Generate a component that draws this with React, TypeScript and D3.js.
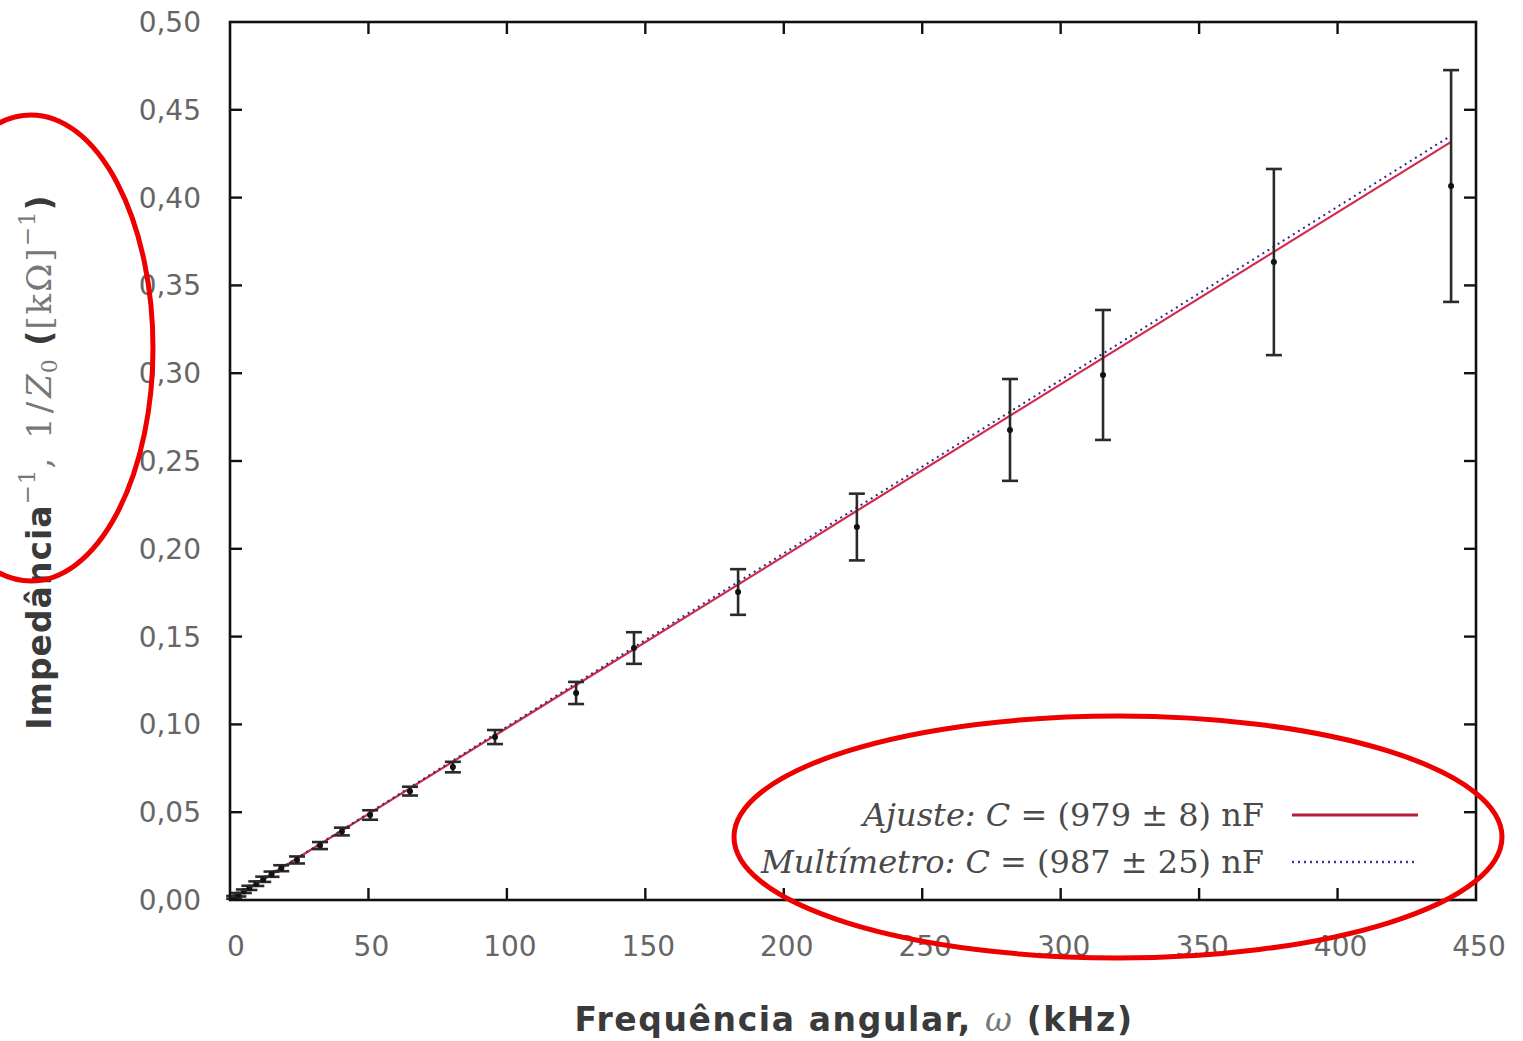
import React from "react";
import * as d3 from "d3";

// Angular frequency (kHz) and measured inverse impedance (kΩ⁻¹) with uncertainties
const omega = [1.5, 3, 5, 7, 9.5, 12, 15, 18.5, 24.2, 32.5, 40.4, 50.6, 65, 80.5, 95.7, 125, 145.9, 183.5, 226.4, 281.7, 315.3, 377, 441];
const invZ = [0.0015, 0.003, 0.005, 0.0069, 0.0093, 0.0118, 0.0147, 0.0181, 0.0228, 0.031, 0.039, 0.0484, 0.062, 0.0757, 0.0928, 0.1179, 0.1435, 0.1754, 0.2124, 0.2677, 0.299, 0.3633, 0.4066];
const invZErr = [0.0008, 0.001, 0.001, 0.0012, 0.0013, 0.0015, 0.0015, 0.0017, 0.002, 0.002, 0.0022, 0.0027, 0.0025, 0.003, 0.004, 0.0063, 0.009, 0.013, 0.019, 0.029, 0.037, 0.053, 0.066];

// Line slopes: fitted and multimeter capacitance
const fitSlope = 0.000979;
const meterSlope = 0.000987;

const xTicks = [0, 50, 100, 150, 200, 250, 300, 350, 400, 450];
const yTicks = [0, 0.05, 0.1, 0.15, 0.2, 0.25, 0.3, 0.35, 0.4, 0.45, 0.5];

export default function App() {
  const W = 1523, H = 1041;
  const x = d3.scaleLinear().domain([0, 450]).range([230, 1476]);
  const y = d3.scaleLinear().domain([0, 0.5]).range([900, 22]);
  const fmt = (v: number) => d3.format(".2f")(v).replace(".", ",");
  const xMax = d3.max(omega) as number;
  const path = d3.line<[number, number]>().x((d) => x(d[0])).y((d) => y(d[1]));
  const fitPts: [number, number][] = [[0, 0], [xMax, fitSlope * xMax]];
  const meterPts: [number, number][] = [[0, 0], [xMax, meterSlope * xMax]];
  const sans = "'DejaVu Sans', sans-serif";
  const serif = "'DejaVu Serif', serif";
  const tick = 12;
  const [x0, x1] = x.range();
  const [y0, y1] = y.range();

  return (
    <svg width={W} height={H} style={{ position: "fixed", left: 0, top: 0, background: "#fff" }}>
      <rect x={0} y={0} width={W} height={H} fill="#fff" />
      {/* fitted and multimeter lines */}
      <path d={path(fitPts) as string} stroke="#d42a4a" strokeWidth={2.2} fill="none" />
      <path d={path(meterPts) as string} stroke="#2b2b8c" strokeWidth={2} strokeDasharray="2,4" fill="none" />

      {/* data with error bars */}
      {omega.map((w, i) => {
        const cx = x(w);
        const top = y(invZ[i] + invZErr[i]);
        const bot = y(invZ[i] - invZErr[i]);
        return (
          <g key={i} stroke="#2a2a2a" strokeWidth={2.6}>
            <line x1={cx} x2={cx} y1={top} y2={bot} />
            <line x1={cx - 8} x2={cx + 8} y1={top} y2={top} />
            <line x1={cx - 8} x2={cx + 8} y1={bot} y2={bot} />
            <circle cx={cx} cy={y(invZ[i])} r={3} fill="#111" stroke="none" />
          </g>
        );
      })}

      {/* frame */}
      <rect x={x0} y={y1} width={x1 - x0} height={y0 - y1} fill="none" stroke="#111" strokeWidth={2.6} />
      {xTicks.map((t) => (
        <g key={"x" + t}>
          {t > 0 && t < 450 && (
            <>
              <line x1={x(t)} x2={x(t)} y1={y0} y2={y0 - tick} stroke="#111" strokeWidth={2.4} />
              <line x1={x(t)} x2={x(t)} y1={y1} y2={y1 + tick} stroke="#111" strokeWidth={2.4} />
            </>
          )}
          <text x={x(t) + (t === 0 ? 6 : 3)} y={956} textAnchor="middle" fontFamily={sans} fontSize={28} fill="#666">
            {t}
          </text>
        </g>
      ))}
      {yTicks.map((t) => (
        <g key={"y" + t}>
          {t > 0 && t < 0.5 && (
            <>
              <line x1={x0} x2={x0 + tick} y1={y(t)} y2={y(t)} stroke="#111" strokeWidth={2.4} />
              <line x1={x1} x2={x1 - tick} y1={y(t)} y2={y(t)} stroke="#111" strokeWidth={2.4} />
            </>
          )}
          <text x={201} y={y(t) + 10} textAnchor="end" fontFamily={sans} fontSize={28} fill="#666">
            {fmt(t)}
          </text>
        </g>
      ))}

      {/* axis titles */}
      <text x={854} y={1031} textAnchor="middle" fontFamily={sans} fontWeight="bold" fontSize={33} letterSpacing={1.6} fill="#3a3a3a">
        Frequência angular, <tspan fontFamily={serif} fontStyle="italic" fontWeight="normal" fill="#777">ω</tspan> (kHz)
      </text>
      <text transform="translate(51,462) rotate(-90)" textAnchor="middle" fontFamily={sans} fontWeight="bold" fontSize={33} letterSpacing={1} fill="#3a3a3a">
        Impedância
        <tspan fontFamily={serif} fontWeight="normal" fontSize={23} dy={-16} fill="#777">−1</tspan>
        <tspan fontFamily={serif} fontWeight="normal" fontSize={34} dy={16} fill="#777" letterSpacing={4}>,  1/</tspan>
        <tspan fontFamily={serif} fontWeight="normal" fontSize={34} fontStyle="italic" fill="#777">Z</tspan>
        <tspan fontFamily={serif} fontWeight="normal" fontSize={22} dy={6} fill="#777">0</tspan>
        <tspan dy={-6}>  (</tspan>
        <tspan fontFamily={serif} fontWeight="normal" fontSize={34} fill="#777" letterSpacing={2}>[kΩ]</tspan>
        <tspan fontFamily={serif} fontWeight="normal" fontSize={23} dy={-16} fill="#777">−1</tspan>
        <tspan dy={16}>)</tspan>
      </text>

      {/* legend */}
      <text x={1264} y={826} textAnchor="end" fontFamily={serif} fontSize={32} fill="#4a4a4a">
        <tspan fontStyle="italic">Ajuste: C</tspan> = (979 ± 8) nF
      </text>
      <line x1={1292} x2={1418} y1={815} y2={815} stroke="#b81c38" strokeWidth={3} />
      <text x={1264} y={873} textAnchor="end" fontFamily={serif} fontSize={32} fill="#4a4a4a">
        <tspan fontStyle="italic">Multímetro: C</tspan> = (987 ± 25) nF
      </text>
      <line x1={1292} x2={1418} y1={862} y2={862} stroke="#3a3aa8" strokeWidth={2.5} strokeDasharray="2,4" />

      {/* highlight ellipses */}
      <ellipse cx={31} cy={348} rx={122} ry={233} fill="none" stroke="#ee0000" strokeWidth={5} />
      <ellipse cx={1118} cy={837} rx={384} ry={121} fill="none" stroke="#ee0000" strokeWidth={5} />
    </svg>
  );
}
